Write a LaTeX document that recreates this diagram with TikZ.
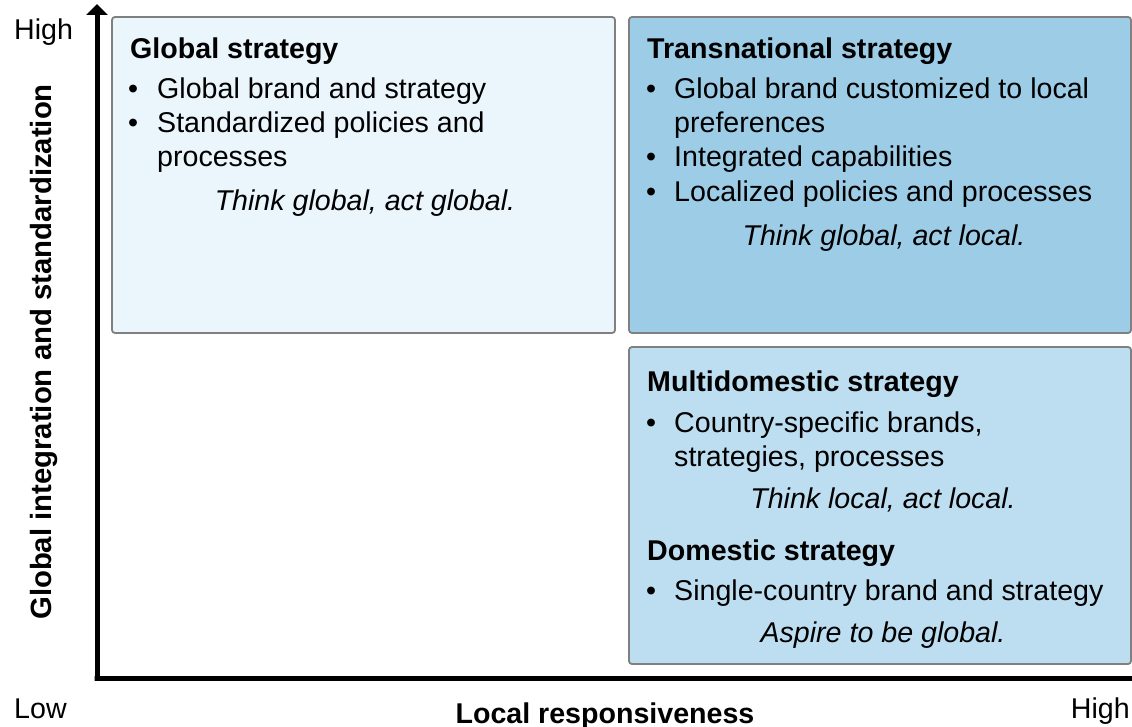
\documentclass[tikz,border=0pt]{standalone}
\usepackage{fontspec}
\setmainfont{Liberation Sans}
\usetikzlibrary{arrows.meta}
\definecolor{globfill}{HTML}{EAF5FC}
\definecolor{transfill}{HTML}{9DCCE7}
\definecolor{multifill}{HTML}{BDDEF1}
\definecolor{boxline}{HTML}{808080}
\begin{document}
\begin{tikzpicture}[x=1pt,y=-1pt,
  box/.style={draw=boxline,line width=1.8pt,rounded corners=3pt},
  txt/.style={inner sep=0pt,anchor=base west,font=\fontsize{28.6}{34}\selectfont},
  ttl/.style={txt,font=\fontsize{28.6}{34}\selectfont\bfseries},
  itl/.style={inner sep=0pt,anchor=base,font=\fontsize{28.6}{34}\selectfont\itshape},
  axis/.style={line width=5pt}]
\useasboundingbox (0,0) rectangle (1132,727);
\fill[white] (0,0) rectangle (1132,727);
% boxes
\draw[box,fill=globfill] (112,17) rectangle (615,333);
\draw[box,fill=transfill] (629,17) rectangle (1131,333);
\draw[box,fill=multifill] (629,347) rectangle (1131,664);
% axes
\coordinate (origin) at (94.5,678.5);
\coordinate (ytop) at (97,4);
\coordinate (xend) at (1132,678.5);
\draw[axis] (97,678.5) -- (origin) -- (xend);
\draw[axis,-{Triangle[width=21pt,length=11pt]}] (97,681) -- (ytop);
% axis labels
\node[txt] (hightop) at (14,40) {High};
\node[txt] (low) at (14,718) {Low};
\node[txt,anchor=base east] (highright) at (1130,718) {High};
\node[ttl,anchor=base] (xlab) at (605,723) {Local responsiveness};
\node[ttl,anchor=base,rotate=90,font=\fontsize{29.3}{34}\selectfont\bfseries] (ylab) at (51,352) {Global integration and standardization};
% global strategy
\node[ttl] (gt) at (130,59) {Global strategy};
\node[txt] (gb1) at (128,99) {•};
\node[txt] (g1) at (157,99) {Global brand and strategy};
\node[txt] (gb2) at (128,133) {•};
\node[txt] (g2) at (157,133) {Standardized policies and};
\node[txt] (g3) at (157,167) {processes};
\node[itl] (gi) at (365,211) {Think global, act global.};
% transnational
\node[ttl] (tt) at (647,59) {Transnational strategy};
\node[txt] (tb1) at (646,99) {•};
\node[txt] (t1) at (674,99) {Global brand customized to local};
\node[txt] (t2) at (674,133) {preferences};
\node[txt] (tb3) at (646,167) {•};
\node[txt] (t3) at (674,167) {Integrated capabilities};
\node[txt] (tb4) at (646,202) {•};
\node[txt] (t4) at (674,202) {Localized policies and processes};
\node[itl] (ti) at (884,246) {Think global, act local.};
% multidomestic
\node[ttl] (mt) at (647,391) {Multidomestic strategy};
\node[txt] (mb1) at (646,432) {•};
\node[txt] (m1) at (674,432) {Country-specific brands,};
\node[txt] (m2) at (674,466) {strategies, processes};
\node[itl] (mi) at (883,508) {Think local, act local.};
% domestic
\node[ttl] (dt) at (647,560) {Domestic strategy};
\node[txt] (db1) at (646,600) {•};
\node[txt] (d1) at (674,600) {Single-country brand and strategy};
\node[itl] (di) at (883,642) {Aspire to be global.};
\end{tikzpicture}
\end{document}
